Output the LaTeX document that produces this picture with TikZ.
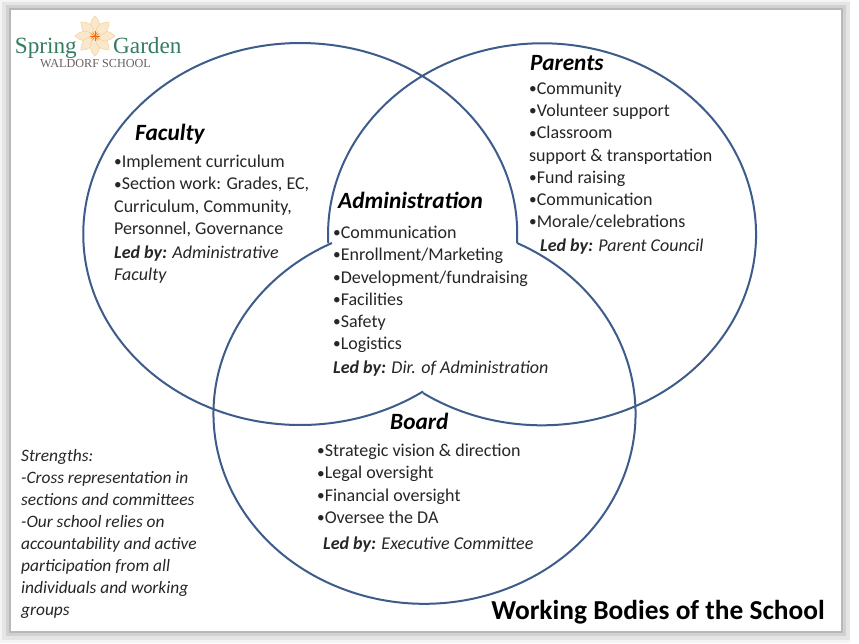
\documentclass[tikz,border=0pt]{standalone}
\usepackage{fontspec}
\setmainfont{Carlito}
\newfontfamily\logofont{Liberation Serif}
\usetikzlibrary{positioning}
\definecolor{ringblue}{RGB}{61,92,138}
\definecolor{logogreen}{RGB}{52,125,95}
\definecolor{logogray}{RGB}{105,95,100}
\definecolor{petal}{RGB}{240,190,110}
\tikzset{
ring/.style={draw=ringblue, line width=2pt},
listing/.style={anchor=north west, inner sep=0pt, align=left, text=black!85,
  font=\fontsize{18}{22.2}\selectfont},
heading/.style={inner sep=0pt, text=black, font=\fontsize{23.3}{24}\selectfont\bfseries\itshape},
ledby/.style={anchor=base west, inner sep=0pt, text=black!85, font=\fontsize{18}{20}\selectfont\itshape},
}
\newcommand{\ledlabel}{\textbf{Led by:}}
\newcommand{\bul}{\raisebox{.05em}{\scalebox{.85}{•}}}
\begin{document}
\begin{tikzpicture}[x=1pt,y=-1pt]
\useasboundingbox (0,0) rectangle (859,643);
% page shadow
\fill[black!4] (0,0) rectangle (859,643);
\fill[white] (850,0) rectangle (859,643);
\fill[black!10] (2,2) rectangle (850,640);
\fill[black!18] (6,5) rectangle (846,636);
\fill[black!28] (9,8) rectangle (843,633);
\fill[white] (11,10) rectangle (841,631);
% the three rings, open inside Administration
\draw[ring] (517,243) arc[start angle=-2.7, end angle=304.5, x radius=217, y radius=-191];
\draw[ring] (423,393) arc[start angle=236.2, end angle=542.7, x radius=214, y radius=-191];
\draw[ring] (517,243) arc[start angle=64, end angle=-244, x radius=211, y radius=-190];
% logo
\foreach \a in {0,45,...,315}
  \fill[petal!35, draw=petal!80, line width=.4pt, rotate around={\a:(95,36)}]
    (95,36) .. controls (87,26) and (90,22) .. (95,16) .. controls (100,22) and (103,26) .. (95,36);
\foreach \a in {0,30,...,330}
  \draw[orange!80!red, line width=.4pt] (95,36) -- ++(\a:5);
\node (spring) [anchor=base east, inner sep=0pt, text=logogreen, font=\logofont\fontsize{23.2}{23}\selectfont] at (77,53) {Spring};
\node (garden) [anchor=base west, inner sep=0pt, text=logogreen, font=\logofont\fontsize{23.2}{23}\selectfont] at (113,53) {Garden};
\node (waldorf) [anchor=base, inner sep=0pt, text=logogray, font=\logofont\fontsize{12.2}{12}\selectfont] at (95.5,67) {WALDORF SCHOOL};
% faculty
\node (faculty) [heading, anchor=base west] at (135,140) {Faculty};
\node (facultylist) [listing] at (114,155) {\bul Implement curriculum\\\bul Section work: Grades, EC,\\Curriculum, Community,\\Personnel, Governance};
\node (facultyled) [ledby, align=left] at (114,258) {\ledlabel{} Administrative};
\node (facultyled2) [ledby] at (114,280) {Faculty};
% parents
\node (parents) [heading, anchor=base west] at (530,70) {Parents};
\node (parentslist) [listing] at (529,82) {\bul Community\\\bul Volunteer support\\\bul Classroom\\support \& transportation\\\bul Fund raising\\\bul Communication\\\bul Morale/celebrations};
\node (parentsled) [ledby] at (540,251) {\ledlabel{} Parent Council};
% administration
\node (admin) [heading, anchor=base west] at (338,208) {Administration};
\node (adminlist) [listing] at (333,226) {\bul Communication\\\bul Enrollment/Marketing\\\bul Development/fundraising\\\bul Facilities\\\bul Safety\\\bul Logistics};
\node (adminled) [ledby] at (333,373) {\ledlabel{} Dir. of Administration};
% board
\node (board) [heading, anchor=base west] at (390,429) {Board};
\node (boardlist) [listing] at (317,444) {\bul Strategic vision \& direction\\\bul Legal oversight\\\bul Financial oversight\\\bul Oversee the DA};
\node (boardled) [ledby] at (323,549) {\ledlabel{} Executive Committee};
% strengths
\node (strengths) [listing, text=black!85, font=\fontsize{17.4}{22}\selectfont\itshape] at (21,449) {Strengths:\\-Cross representation in\\sections and committees\\-Our school relies on\\accountability and active\\participation from all\\individuals and working\\groups};
% title
\node (title) [anchor=base east, inner sep=0pt, text=black, font=\fontsize{27.4}{28}\selectfont\bfseries] at (825,619) {Working Bodies of the School};
\end{tikzpicture}
\end{document}
